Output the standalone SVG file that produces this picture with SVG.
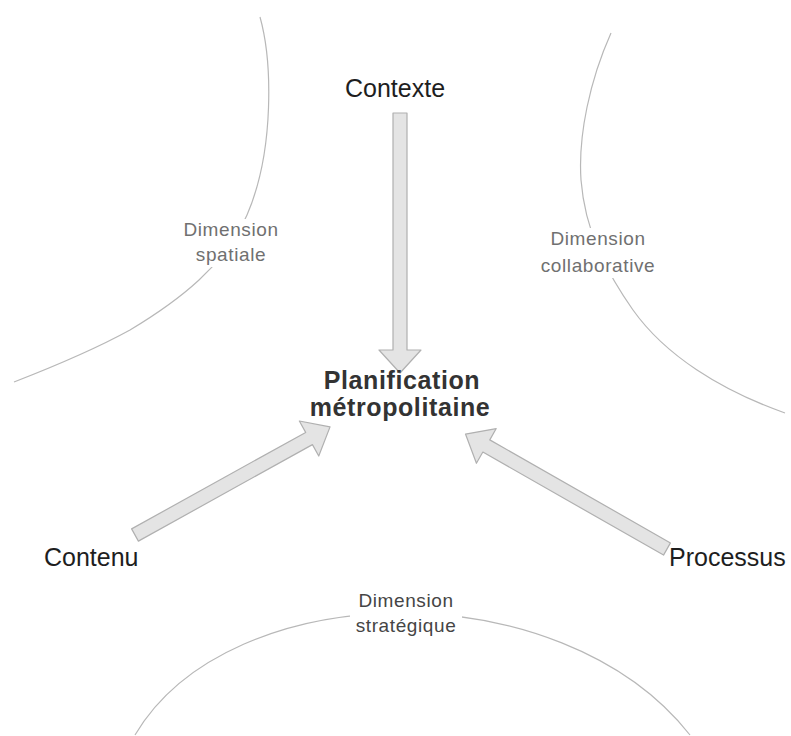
<svg xmlns="http://www.w3.org/2000/svg" width="791" height="736" viewBox="0 0 791 736">
<style>
.curve{fill:none;stroke:#b8b8b8;stroke-width:1.2}
.arrow{fill:#e4e4e4;stroke:#b0b0b0;stroke-width:1.2;stroke-linejoin:round}
.main{font-family:"Liberation Sans",Arial,sans-serif;font-size:25px;fill:#1e1e1e}
.center{font-family:"Liberation Sans",Arial,sans-serif;font-size:25px;font-weight:bold;letter-spacing:0.6px;fill:#333;text-anchor:middle}
.dim{font-family:"Liberation Sans",Arial,sans-serif;font-size:19px;letter-spacing:0.6px;fill:#707070;text-anchor:middle}
.mask{fill:#fff}
</style>
<rect width="791" height="736" fill="#fff"/>
<g id="dimensions">
<path class="curve" d="M260,17 C272,60 275,150 247,215 C225,265 180,300 130,330 C90,352 50,368 14,382"/>
<path class="curve" d="M611,33 C590,80 578,135 581,180 C585,230 605,270 633,310 C665,355 720,390 785,413"/>
<path class="curve" d="M135,735 C230,575 560,570 690,735"/>
</g>
<g id="connectors">
<polygon class="arrow" transform="translate(400,113) rotate(90)" points="0,-7 237,-7 237,-21 260,0 237,21 237,7 0,7"/>
<polygon class="arrow" transform="translate(135,535) rotate(-29)" points="0,-7 199,-7 199,-20 223,0 199,20 199,7 0,7"/>
<polygon class="arrow" transform="translate(667,549) rotate(-150.3)" points="0,-7 208,-7 208,-20 232,0 208,20 208,7 0,7"/>
</g>
<g id="dim-spatiale">
<rect class="mask" x="179" y="219" width="104" height="48"/>
<text class="dim" x="231" y="236">Dimension</text>
<text class="dim" x="231" y="261">spatiale</text>
</g>
<g id="dim-collaborative">
<rect class="mask" x="535" y="228" width="127" height="50"/>
<text class="dim" x="598" y="245">Dimension</text>
<text class="dim" x="598" y="272">collaborative</text>
</g>
<g id="dim-strategique">
<rect class="mask" x="350" y="590" width="112" height="48"/>
<text class="dim" x="406" y="607" style="fill:#454545">Dimension</text>
<text class="dim" x="406" y="632" style="fill:#454545">stratégique</text>
</g>
<g id="contexte"><text class="main" x="345" y="97">Contexte</text></g>
<g id="planification">
<text class="center" x="402" y="389">Planification</text>
<text class="center" x="400" y="416">métropolitaine</text>
</g>
<g id="contenu"><text class="main" x="44" y="566">Contenu</text></g>
<g id="processus"><text class="main" x="669" y="566">Processus</text></g>
</svg>
